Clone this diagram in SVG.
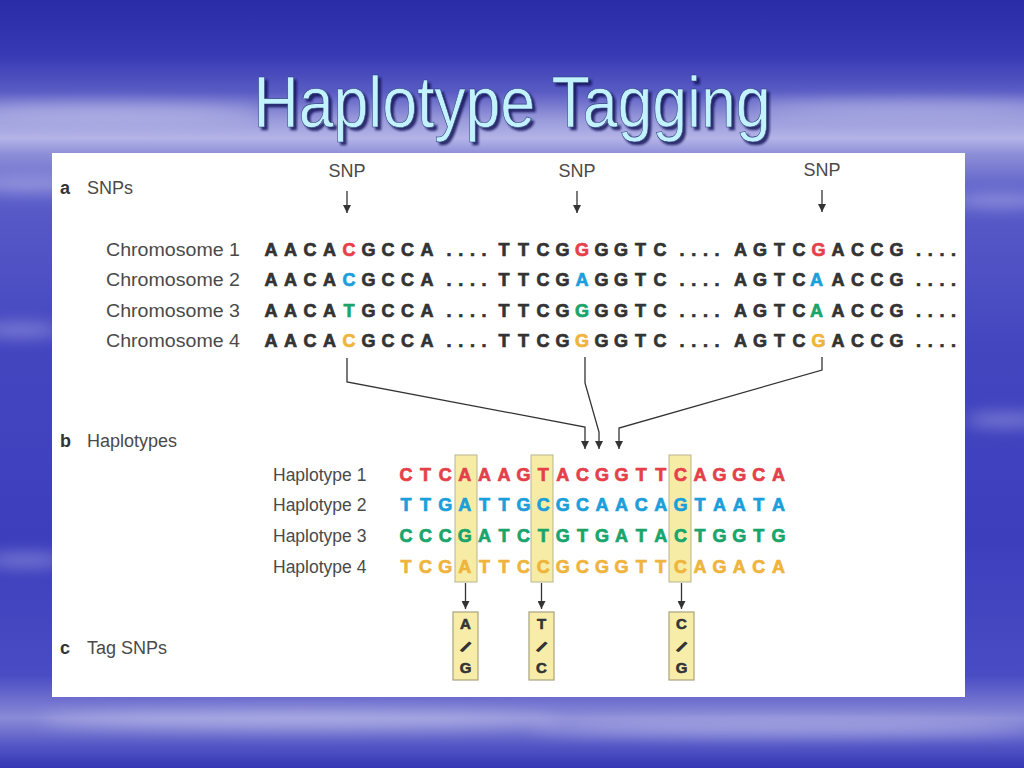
<svg xmlns="http://www.w3.org/2000/svg" width="1024" height="768" viewBox="0 0 1024 768">
  <defs>
    <linearGradient id="bg" x1="0" y1="0" x2="0" y2="1">
      <stop offset="0" stop-color="#2a2ba6"/>
      <stop offset="0.07" stop-color="#3638b4"/>
      <stop offset="0.12" stop-color="#5a5cc4"/>
      <stop offset="0.155" stop-color="#9899da"/>
      <stop offset="0.18" stop-color="#b4b4e8"/>
      <stop offset="0.2" stop-color="#8e8fd8"/>
      <stop offset="0.25" stop-color="#5a5cc8"/>
      <stop offset="0.45" stop-color="#4446c0"/>
      <stop offset="0.7" stop-color="#3c3ebc"/>
      <stop offset="0.88" stop-color="#4a4cc4"/>
      <stop offset="0.935" stop-color="#8a8bd6"/>
      <stop offset="0.97" stop-color="#5557c6"/>
      <stop offset="1" stop-color="#3436b4"/>
    </linearGradient>
    <filter id="blur" x="-50%" y="-50%" width="200%" height="200%">
      <feGaussianBlur stdDeviation="8"/>
    </filter>
    <filter id="tshadow" x="-10%" y="-20%" width="120%" height="150%">
      <feGaussianBlur in="SourceAlpha" stdDeviation="1.2" result="b"/>
      <feOffset in="b" dx="3" dy="3" result="o"/>
      <feFlood flood-color="#15155a" flood-opacity="0.85"/>
      <feComposite in2="o" operator="in" result="s"/>
      <feMerge>
        <feMergeNode in="s"/>
        <feMergeNode in="SourceGraphic"/>
      </feMerge>
    </filter>
    <marker id="arr" viewBox="0 0 10 10" refX="10" refY="5" markerWidth="8" markerHeight="8" markerUnits="userSpaceOnUse" orient="auto">
      <path d="M0,0 L10,5 L0,10 z" fill="#333"/>
    </marker>
  </defs>
  <style>
    .lbl { font-family: "Liberation Sans", Arial, sans-serif; font-size: 18px; fill: #4a4a4a; }
    .hl { font-family: "Liberation Sans", Arial, sans-serif; font-size: 17.5px; fill: #4a4a4a; }
    .sec { font-family: "Liberation Sans", Arial, sans-serif; font-size: 18px; font-weight: bold; fill: #333; }
    .seq { font-family: "Liberation Sans", Arial, sans-serif; font-size: 18px; font-weight: bold; fill: #333; stroke: #333; stroke-width: 0.7; text-anchor: middle; }
    .tag { font-family: "Liberation Sans", Arial, sans-serif; font-size: 15px; font-weight: bold; fill: #333; stroke: #333; stroke-width: 0.6; text-anchor: middle; }
    .sl { stroke-width: 1.4; }
    .r { fill: #e5404a; stroke: #e5404a; }
    .b { fill: #1b9fdb; stroke: #1b9fdb; }
    .g { fill: #17a56b; stroke: #17a56b; }
    .o { fill: #efb43c; stroke: #efb43c; }
    .col { fill: #f7eca6; stroke: #b9b48e; stroke-width: 1; }
    .box { fill: #f7eda9; stroke: #a8a27c; stroke-width: 1.2; }
    .conn { fill: none; stroke: #333; stroke-width: 1.3; }
  </style>

  <g id="background">
    <rect x="0" y="0" width="1024" height="768" fill="url(#bg)"/>
    <g filter="url(#blur)" fill="#d8d8f6" opacity="0.45">
      <ellipse cx="110" cy="112" rx="150" ry="9"/>
      <ellipse cx="910" cy="108" rx="160" ry="8"/>
      <ellipse cx="30" cy="185" rx="60" ry="8"/>
      <ellipse cx="1000" cy="200" rx="50" ry="7"/>
      <ellipse cx="20" cy="330" rx="40" ry="6"/>
      <ellipse cx="1005" cy="420" rx="40" ry="6"/>
      <ellipse cx="25" cy="560" rx="40" ry="6"/>
      <ellipse cx="300" cy="720" rx="260" ry="9"/>
      <ellipse cx="780" cy="728" rx="250" ry="8"/>
    </g>
  </g>

  <g id="title">
    <text x="512" y="127" text-anchor="middle" font-family="'Liberation Sans', Arial, sans-serif" font-size="72" textLength="517" lengthAdjust="spacingAndGlyphs" fill="#c2f2fd" stroke="#2a3a7a" stroke-width="0.6" filter="url(#tshadow)">Haplotype Tagging</text>
  </g>

  <g id="panel">
    <rect x="52" y="153" width="913" height="544" fill="#ffffff"/>
  </g>

  <g id="section-labels">
    <text class="sec" x="60" y="194">a</text>
    <text class="lbl" x="87" y="194">SNPs</text>
    <text class="sec" x="60" y="447">b</text>
    <text class="lbl" x="87" y="447">Haplotypes</text>
    <text class="sec" x="60" y="654">c</text>
    <text class="lbl" x="87" y="654">Tag SNPs</text>
  </g>

  <g id="snp-labels">
    <text class="lbl" x="347" y="177" text-anchor="middle">SNP</text>
    <text class="lbl" x="577" y="177" text-anchor="middle">SNP</text>
    <text class="lbl" x="822" y="176" text-anchor="middle">SNP</text>
  </g>

  <g id="chromosome-1">
    <text class="lbl" x="106" y="256" textLength="134" lengthAdjust="spacingAndGlyphs">Chromosome 1</text>
    <text class="seq" y="256"><tspan x="271 290.5 310 329.5">AACA</tspan><tspan class="r" x="349">C</tspan><tspan x="368.5 388 407.5 427">GCCA</tspan><tspan x="449 460.7 472.4 484.1">....</tspan><tspan x="504 523.5 543 562.5">TTCG</tspan><tspan class="r" x="582">G</tspan><tspan x="601.5 621 640.5 660">GGTC</tspan><tspan x="682 693.7 705.4 717.1">....</tspan><tspan x="740.5 760 779.5 799">AGTC</tspan><tspan class="r" x="818.5">G</tspan><tspan x="838 857.5 877 896.5">ACCG</tspan><tspan x="918.5 930.2 941.9 953.6">....</tspan></text>
  </g>
  <g id="chromosome-2">
    <text class="lbl" x="106" y="286" textLength="134" lengthAdjust="spacingAndGlyphs">Chromosome 2</text>
    <text class="seq" y="286"><tspan x="271 290.5 310 329.5">AACA</tspan><tspan class="b" x="349">C</tspan><tspan x="368.5 388 407.5 427">GCCA</tspan><tspan x="449 460.7 472.4 484.1">....</tspan><tspan x="504 523.5 543 562.5">TTCG</tspan><tspan class="b" x="582">A</tspan><tspan x="601.5 621 640.5 660">GGTC</tspan><tspan x="682 693.7 705.4 717.1">....</tspan><tspan x="740.5 760 779.5 799">AGTC</tspan><tspan class="b" x="816.5">A</tspan><tspan x="838 857.5 877 896.5">ACCG</tspan><tspan x="918.5 930.2 941.9 953.6">....</tspan></text>
  </g>
  <g id="chromosome-3">
    <text class="lbl" x="106" y="317" textLength="134" lengthAdjust="spacingAndGlyphs">Chromosome 3</text>
    <text class="seq" y="317"><tspan x="271 290.5 310 329.5">AACA</tspan><tspan class="g" x="349">T</tspan><tspan x="368.5 388 407.5 427">GCCA</tspan><tspan x="449 460.7 472.4 484.1">....</tspan><tspan x="504 523.5 543 562.5">TTCG</tspan><tspan class="g" x="582">G</tspan><tspan x="601.5 621 640.5 660">GGTC</tspan><tspan x="682 693.7 705.4 717.1">....</tspan><tspan x="740.5 760 779.5 799">AGTC</tspan><tspan class="g" x="816.5">A</tspan><tspan x="838 857.5 877 896.5">ACCG</tspan><tspan x="918.5 930.2 941.9 953.6">....</tspan></text>
  </g>
  <g id="chromosome-4">
    <text class="lbl" x="106" y="347" textLength="134" lengthAdjust="spacingAndGlyphs">Chromosome 4</text>
    <text class="seq" y="347"><tspan x="271 290.5 310 329.5">AACA</tspan><tspan class="o" x="349">C</tspan><tspan x="368.5 388 407.5 427">GCCA</tspan><tspan x="449 460.7 472.4 484.1">....</tspan><tspan x="504 523.5 543 562.5">TTCG</tspan><tspan class="o" x="582">G</tspan><tspan x="601.5 621 640.5 660">GGTC</tspan><tspan x="682 693.7 705.4 717.1">....</tspan><tspan x="740.5 760 779.5 799">AGTC</tspan><tspan class="o" x="818.5">G</tspan><tspan x="838 857.5 877 896.5">ACCG</tspan><tspan x="918.5 930.2 941.9 953.6">....</tspan></text>
  </g>

  <g id="tag-columns">
    <rect class="col" x="455" y="455" width="22" height="127"/>
    <rect class="col" x="531" y="455" width="22" height="127"/>
    <rect class="col" x="669" y="455" width="22" height="127"/>
  </g>

  <g id="haplotype-1">
    <text class="hl" x="273" y="481">Haplotype 1</text>
    <text class="seq r" y="481" x="406 425.6 445.2 464.8 484.4 504 523.6 543.2 562.8 582.4 602 621.6 641.2 660.8 680.4 700 719.6 739.2 758.8 778.4">CTCAAAGTACGGTTCAGGCA</text>
  </g>
  <g id="haplotype-2">
    <text class="hl" x="273" y="511">Haplotype 2</text>
    <text class="seq b" y="511" x="406 425.6 445.2 464.8 484.4 504 523.6 543.2 562.8 582.4 602 621.6 641.2 660.8 680.4 700 719.6 739.2 758.8 778.4">TTGATTGCGCAACAGTAATA</text>
  </g>
  <g id="haplotype-3">
    <text class="hl" x="273" y="542">Haplotype 3</text>
    <text class="seq g" y="542" x="406 425.6 445.2 464.8 484.4 504 523.6 543.2 562.8 582.4 602 621.6 641.2 660.8 680.4 700 719.6 739.2 758.8 778.4">CCCGATCTGTGATACTGGTG</text>
  </g>
  <g id="haplotype-4">
    <text class="hl" x="273" y="573">Haplotype 4</text>
    <text class="seq o" y="573" x="406 425.6 445.2 464.8 484.4 504 523.6 543.2 562.8 582.4 602 621.6 641.2 660.8 680.4 700 719.6 739.2 758.8 778.4">TCGATTCCGCGGTTCAGACA</text>
  </g>

  <g id="tag-snp-1">
    <rect class="box" x="453" y="612" width="25" height="68"/>
    <text class="tag" x="465.5" y="629">A</text>
    <text class="tag sl" x="465.5" y="652" transform="rotate(35 465.5 647)">/</text>
    <text class="tag" x="465.5" y="673">G</text>
  </g>
  <g id="tag-snp-2">
    <rect class="box" x="529" y="612" width="25" height="68"/>
    <text class="tag" x="541.5" y="629">T</text>
    <text class="tag sl" x="541.5" y="652" transform="rotate(35 541.5 647)">/</text>
    <text class="tag" x="541.5" y="673">C</text>
  </g>
  <g id="tag-snp-3">
    <rect class="box" x="669" y="612" width="25" height="68"/>
    <text class="tag" x="681.5" y="629">C</text>
    <text class="tag sl" x="681.5" y="652" transform="rotate(35 681.5 647)">/</text>
    <text class="tag" x="681.5" y="673">G</text>
  </g>

  <g id="connectors">
    <line class="conn" x1="347" y1="191" x2="347" y2="213" marker-end="url(#arr)"/>
    <line class="conn" x1="577" y1="191" x2="577" y2="213" marker-end="url(#arr)"/>
    <line class="conn" x1="822" y1="190" x2="822" y2="212" marker-end="url(#arr)"/>
    <polyline class="conn" points="347,358 347,382 585,427 585,449" marker-end="url(#arr)"/>
    <polyline class="conn" points="585,357 585,383 599,432 599,449" marker-end="url(#arr)"/>
    <polyline class="conn" points="822,357 822,370 619,428 619,449" marker-end="url(#arr)"/>
    <line class="conn" x1="465.5" y1="583" x2="465.5" y2="609" marker-end="url(#arr)"/>
    <line class="conn" x1="541.5" y1="583" x2="541.5" y2="609" marker-end="url(#arr)"/>
    <line class="conn" x1="681.5" y1="583" x2="681.5" y2="609" marker-end="url(#arr)"/>
  </g>
</svg>
